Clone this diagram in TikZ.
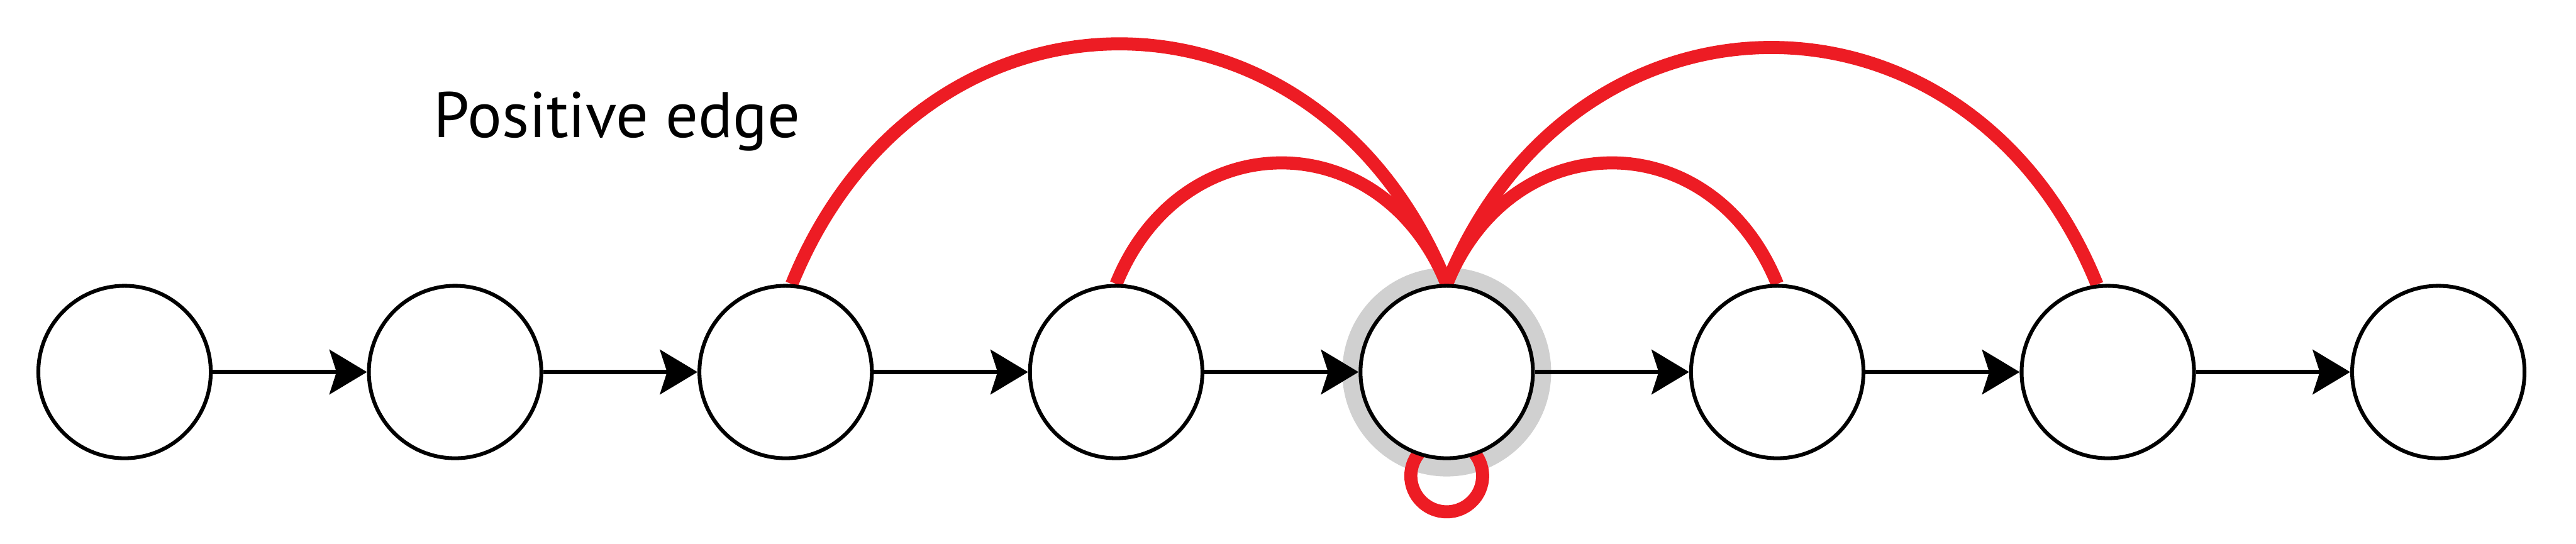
\documentclass[tikz,border=0pt]{standalone}
\usepackage{fontspec}
\setsansfont{PT Sans}
\usepackage{tikz}
\usetikzlibrary{arrows.meta, calc, backgrounds}
\definecolor{edgered}{HTML}{ED1C24}
\definecolor{ringgray}{HTML}{D0D0D0}
\tikzset{
  state/.style     = {circle, draw, fill=white, line width=0.07cm, minimum size=3.17cm, inner sep=0pt},
  fwd/.style       = {-{Stealth[length=0.69cm, width=0.82cm, inset=0.13cm]}, line width=0.08cm},
  posedge/.style   = {edgered, line width=0.24cm},
  focusring/.style = {ringgray, line width=0.31cm},
  lbl/.style       = {font=\sffamily\fontsize{33.7}{40}\selectfont, inner sep=0pt, anchor=base west},
}

\begin{document}
\begin{tikzpicture}
  \useasboundingbox (0,0) rectangle (47.36,10);
  \foreach \i in {1,...,8}
    \node[state] (n\i) at ({2.29+6.077*(\i-1)}, 3.16) {};
  \foreach \p/\q in {1/2,2/3,3/4,4/5,5/6,6/7,7/8}
    \draw[fwd] (n\p) -- (n\q);
  \node[lbl] (poslbl) at (7.97, 7.47) {Positive edge};
  \begin{pgfonlayer}{background}
    \draw[focusring] (n5.center) circle[radius=1.765];
    \draw[posedge] (n3.86) .. controls +(68:6.35) and +(112:6.35) .. (n5.north);
    \draw[posedge] (n4.north) .. controls +(68:3.2) and +(112:3.2) .. (n5.north);
    \draw[posedge] (n5.north) .. controls +(68:3.2) and +(112:3.2) .. (n6.north);
    \draw[posedge] (n5.north) .. controls +(68:6.26) and +(112:6.26) .. (n7.97);
    \draw[posedge] ($(n5.south)+(0,-0.29)$) circle[radius=0.66];
  \end{pgfonlayer}
\end{tikzpicture}
\end{document}
